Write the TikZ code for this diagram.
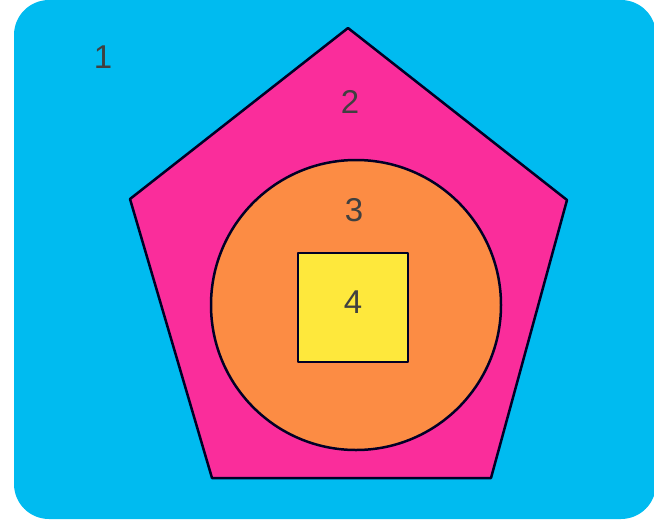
\documentclass[tikz,border=0pt]{standalone}
\usepackage{fontspec}
\setmainfont{Liberation Sans}
\begin{document}
\begin{tikzpicture}[x=1pt,y=-1pt,
  shapeline/.style={draw=black!85!blue, line width=2.5pt, line join=round},
  lbl/.style={font=\fontsize{33}{33}\selectfont, text=black!75}]
\definecolor{bgblue}{RGB}{0,187,240}
\definecolor{pinkc}{RGB}{250,45,155}
\definecolor{orangec}{RGB}{252,140,68}
\definecolor{yellowc}{RGB}{254,232,60}
\useasboundingbox (0,0) rectangle (654,523);
\fill[white] (0,0) rectangle (654,523);
\fill[bgblue, rounded corners=35pt] (14,0) rectangle (656,519);
\filldraw[shapeline, fill=pinkc] (348,28) -- (567,200) -- (491,478) -- (212,478) -- (130,199) -- cycle;
\filldraw[shapeline, fill=orangec] (356,305) circle (145);
\filldraw[shapeline, fill=yellowc] (298,253) rectangle (408,362);
\node[lbl] (l1) at (103,57) {1};
\node[lbl] (l2) at (350,102) {2};
\node[lbl] (l3) at (354,210) {3};
\node[lbl] (l4) at (353,302) {4};
\end{tikzpicture}
\end{document}
